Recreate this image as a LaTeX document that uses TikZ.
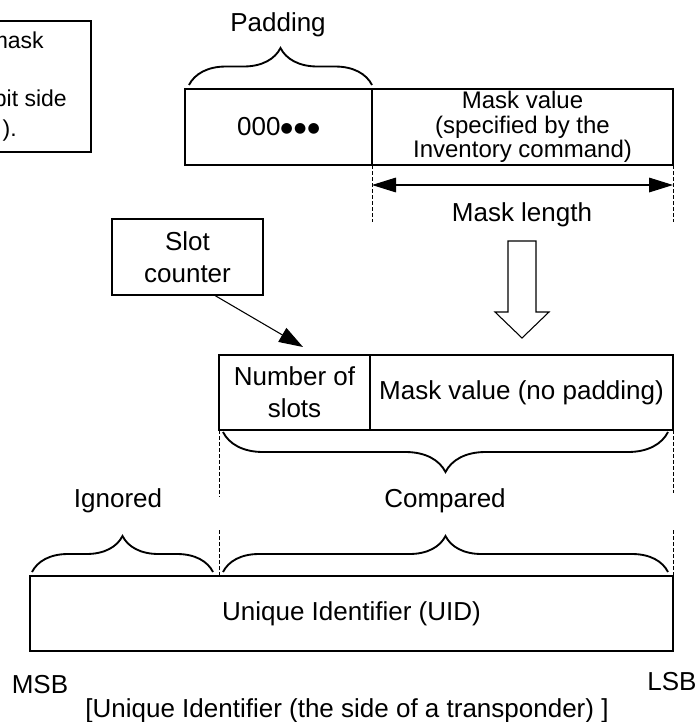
\documentclass[tikz,border=0pt]{standalone}
\usepackage{fontspec}
\setmainfont{Liberation Sans}
\newfontfamily\dotfont{DejaVu Sans}
\usetikzlibrary{arrows.meta, positioning, calc, decorations.pathreplacing}
\newcommand{\lblfont}{\fontsize{19.5}{24}\selectfont}
\newcommand{\valfont}{\fontsize{18}{18.5}\selectfont}
\newcommand{\notefont}{\fontsize{17.25}{22}\selectfont}
\newcommand{\bigdots}{{\dotfont\fontsize{10.5}{10.5}\selectfont\raisebox{2.8pt}{●\hspace{1pt}●\hspace{1pt}●}}}
\tikzstyle{cell}=[draw, line width=0.9pt, inner sep=0pt, outer sep=0pt, align=center, font=\lblfont]
\tikzstyle{lbl}=[anchor=base, inner sep=0pt, font=\lblfont]
\tikzstyle{arr}=[line width=0.8pt, -{Triangle[length=18pt, width=12pt]}]
\tikzstyle{dimarr}=[line width=0.8pt, {Triangle[length=18pt, width=11pt]}-{Triangle[length=18pt, width=11pt]}]
\tikzstyle{dim}=[line width=0.6pt, dash pattern=on 3pt off 1.5pt]
\tikzstyle{brc}=[decorate, line width=1.4pt]
\tikzstyle{hollow}=[line width=0.8pt, fill=white, line join=miter]

\begin{document}
\begin{tikzpicture}[x=0.75pt, y=-0.75pt]
    \useasboundingbox (0,0) rectangle (698,722);

    % note box, cut at the left edge
    \draw[line width=0.9pt] (-20,21) rectangle (91,152);
    \node[anchor=base east, inner sep=0pt, font=\notefont] (note1) at (44,48) {mask};
    \node[anchor=base east, inner sep=0pt, font=\notefont] (note2) at (67,106) {bit side};
    \node[anchor=base east, inner sep=0pt, font=\notefont] (note3) at (17,136) {).};

    % mask from the command
    \node[cell, minimum width=140.25pt, minimum height=57pt, anchor=north west] (padcell) at (185,89) {000\bigdots};
    \node[cell, minimum width=225.75pt, minimum height=57pt, right=0pt of padcell, font=\valfont] (maskcell) {Mask value\\(specified by the\\Inventory command)};
    \node[lbl] (padlbl) at (278,31) {Padding};
    \draw[brc, decoration={brace, amplitude=27.75pt}] ($(padcell.north west)+(4,-4)$) -- ($(padcell.north east)+(0,-4)$);

    \draw[dim] (maskcell.south west) -- ++(0,57);
    \draw[dim] (maskcell.south east) -- ++(0,57);
    \path ($(maskcell.south west)+(0,20)$) edge[dimarr] ($(maskcell.south east)+(0,20)$);
    \node[lbl] (lenlbl) at (522,221) {Mask length};

    % slot counter and shifted mask
    \node[cell, minimum width=113.25pt, minimum height=57pt, anchor=north west] (slotctr) at (112,219) {Slot\\counter};
    \draw[hollow] (508,241) -- (536,241) -- (536,312) -- (549,312) -- (522,338) -- (495,312) -- (508,312) -- cycle;

    \node[cell, minimum width=113.25pt, minimum height=56.25pt, anchor=north west] (slotscell) at (219,355) {Number of\\slots};
    \node[cell, minimum width=227.25pt, minimum height=56.25pt, right=0pt of slotscell] (nopadcell) {Mask value (no padding)};
    \coordinate (slottip) at (303,347);
    \path (slotctr.-55) edge[arr] (slottip);

    \draw[brc, decoration={brace, amplitude=30pt}] ($(nopadcell.south east)+(-5,2)$) -- ($(slotscell.south west)+(4,2)$);

    % UID
    \node[cell, minimum width=482.25pt, minimum height=56.25pt, anchor=north west] (uidbox) at (30,576) {Unique Identifier (UID)};
    \draw[dim] (slotscell.south west) -- ++(0,67);
    \draw[dim] (nopadcell.south east) -- ++(0,63);
    \draw[dim] (uidbox.north -| slotscell.west) -- ++(0,-46);
    \draw[dim] (uidbox.north east) -- ++(0,-46);

    \node[lbl] (ignlbl) at (118,507) {Ignored};
    \node[lbl] (cmplbl) at (445,507) {Compared};
    \draw[brc, decoration={brace, amplitude=27pt}] ($(uidbox.north west)+(2,-4)$) -- ($(uidbox.north -| slotscell.west)+(-6,-4)$);
    \draw[brc, decoration={brace, amplitude=27pt}] ($(uidbox.north -| slotscell.west)+(4,-4)$) -- ($(uidbox.north east)+(-5,-4)$);

    \node[lbl] (msb) at (40,693) {MSB};
    \node[lbl] (lsb) at (672,690) {LSB};
    \node[lbl] (caption) at (347,717) {[Unique Identifier (the side of a transponder) ]};
\end{tikzpicture}
\end{document}
